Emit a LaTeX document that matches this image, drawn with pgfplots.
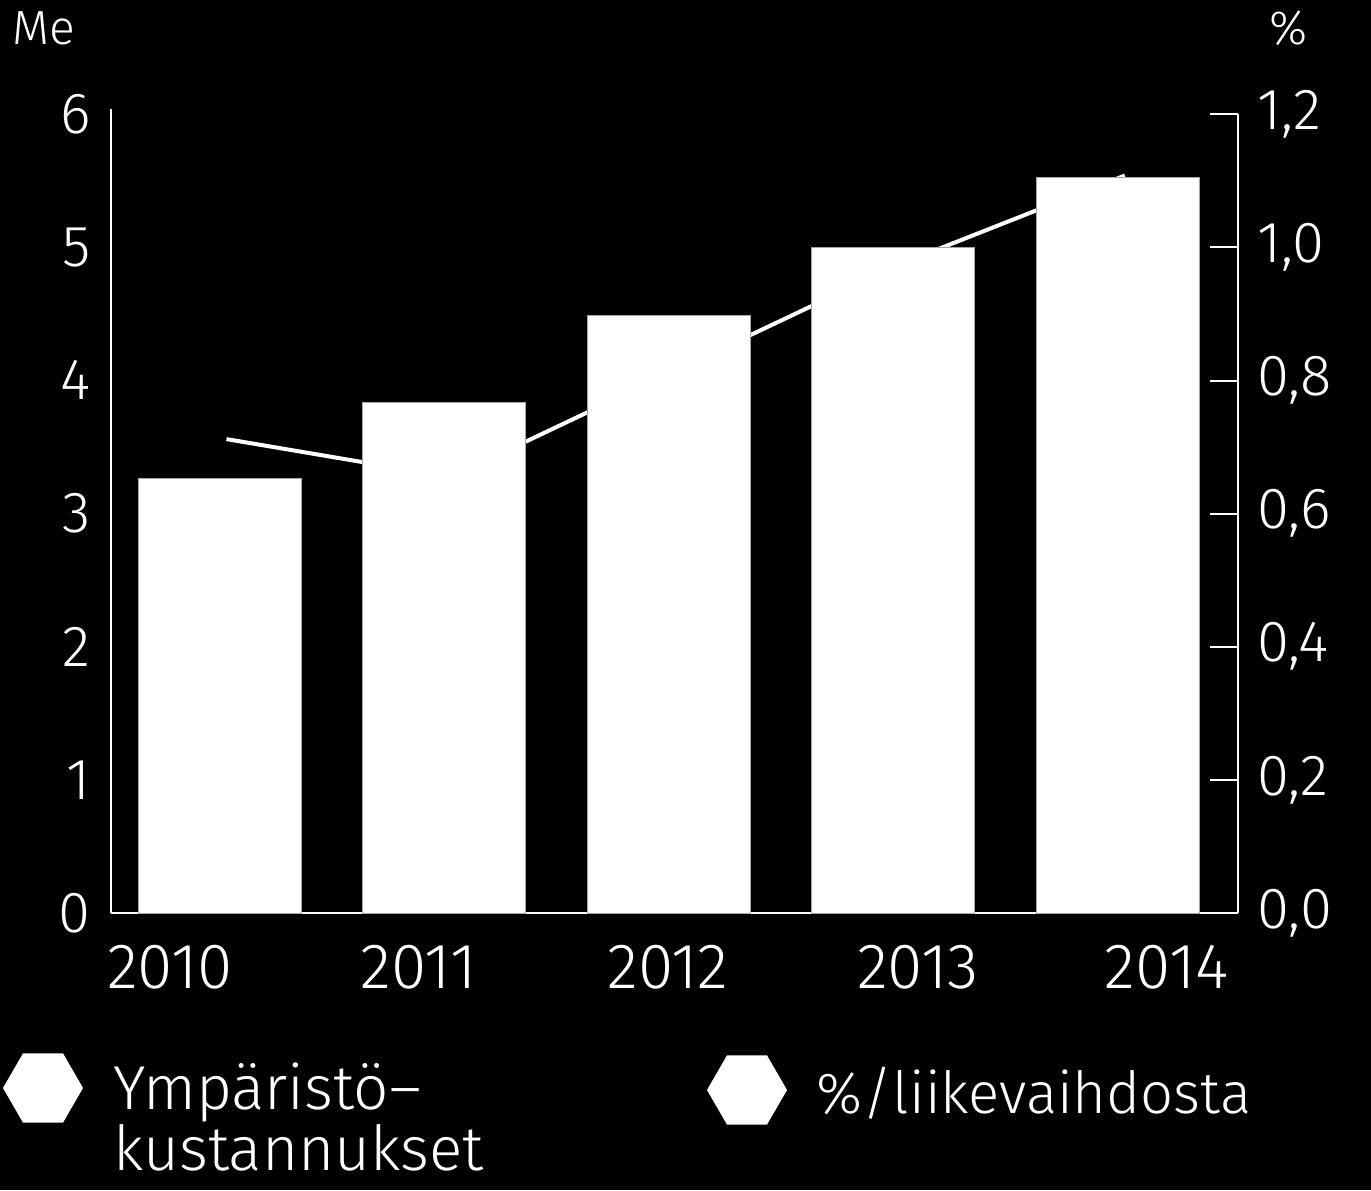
\documentclass[border=0pt]{standalone}
\usepackage{pgfplots}
\pgfplotsset{compat=1.18}
\usepackage{fontspec}
\setmainfont{Fira Sans}[UprightFont={* Light}]
\usetikzlibrary{shapes.geometric}

\begin{document}
\begin{tikzpicture}[x=1pt,y=1pt]
\fill[black] (0,0) rectangle (685.5,595);
\path[use as bounding box] (0,0) rectangle (685.5,595);

% right axis with line (drawn first, behind bars)
\begin{axis}[
  at={(55.5pt,138.5pt)}, anchor=south west,
  scale only axis, width=563.5pt, height=399.35pt,
  xmin=-0.484, xmax=4.534, ymin=0, ymax=1.2,
  axis x line=none,
  axis y line*=right,
  axis line style={white, line width=1pt, -},
  ytick={0,0.2,0.4,0.6,0.8,1.0,1.2},
  yticklabels={{0,0},{0,2},{0,4},{0,6},{0,8},{1,0},{1,2}},
  tick align=inside, major tick length=14pt,
  tick style={white, line width=1pt},
  yticklabel style={font=\fontsize{29}{29}\selectfont, text=white, anchor=west, inner sep=0pt, xshift=9.5pt},
  clip=false,
]
\addplot[white, line width=2pt] coordinates {(0.03,0.712) (1.03,0.655) (2.03,0.815) (3.03,0.975) (4.03,1.108)};
\end{axis}

% left axis with bars
\begin{axis}[
  at={(55.5pt,138.5pt)}, anchor=south west,
  scale only axis, width=563.5pt, height=402.15pt,
  xmin=-0.484, xmax=4.534, ymin=0, ymax=6.04,
  axis x line*=bottom, axis y line*=left,
  axis line style={white, line width=1pt, -},
  ytick={0,1,2,3,4,5,6},
  yticklabels={0,1,2,3,4,5,6},
  xtick={-0.221,0.887,1.996,3.109,4.217},
  xticklabels={2010,2011,2012,2013,2014},
  major tick length=0pt,
  yticklabel style={font=\fontsize{29}{29}\selectfont, text=white, anchor=east, inner sep=0pt, xshift=-10pt},
  xticklabel style={font=\fontsize{32}{32}\selectfont, text=white, anchor=center, inner sep=0pt, yshift=-27.25pt},
  clip=false,
]
\addplot[ybar, bar width=81.5pt, fill=white, draw=gray!70, line width=0.5pt] coordinates {(0,3.26) (1,3.83) (2,4.49) (3,5.0) (4,5.52)};
\end{axis}

% unit labels
\node[anchor=base west, inner sep=0pt, text=white, font=\fontsize{24}{24}\selectfont] at (6,572.5) {Me};
\node[anchor=base west, inner sep=0pt, text=white, font=\fontsize{24}{24}\selectfont] at (634.5,572.5) {\%};

% legend
\node[regular polygon, regular polygon sides=6, fill=white, inner sep=0pt, minimum size=40pt] at (21.5,51) {};
\node[regular polygon, regular polygon sides=6, fill=white, inner sep=0pt, minimum size=40pt] at (373.5,50) {};
\node[anchor=base west, inner sep=0pt, text=white, font=\fontsize{31}{31}\selectfont] at (56.5,40.5) {Ympäristö–};
\node[anchor=base west, inner sep=0pt, text=white, font=\fontsize{31}{31}\selectfont] at (56.5,10.0) {kustannukset};
\node[anchor=base west, inner sep=0pt, text=white, font=\fontsize{29}{29}\selectfont] at (408.2,38.5) {\%/liikevaihdosta};
\end{tikzpicture}
\end{document}
